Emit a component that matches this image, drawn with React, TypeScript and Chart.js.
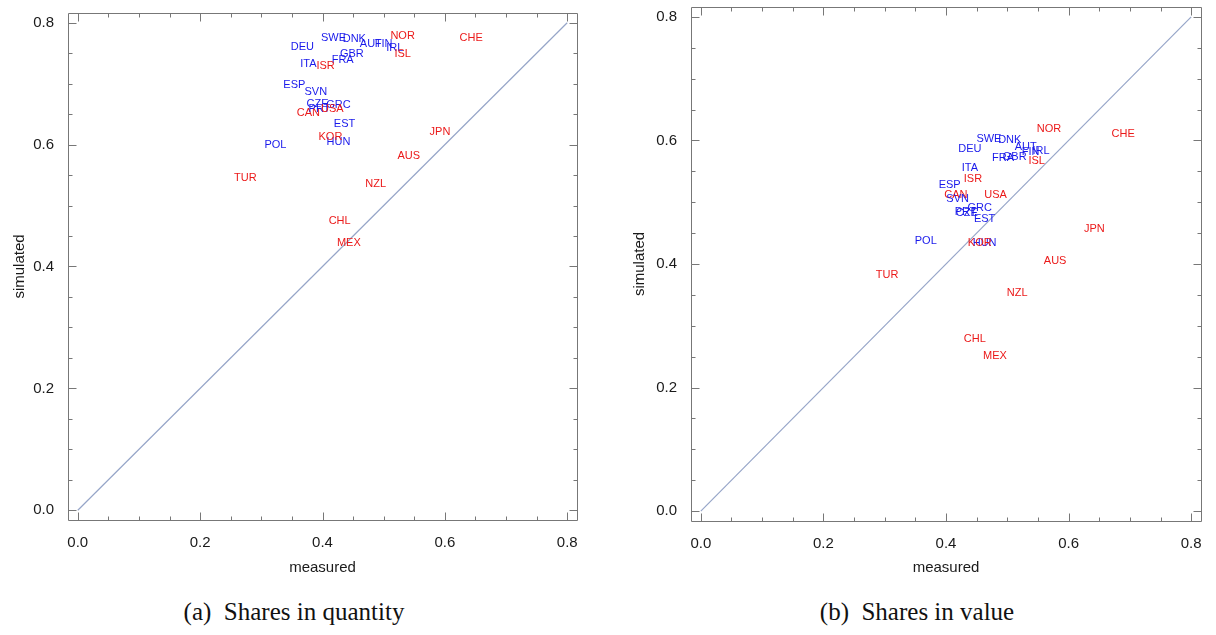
import React, { useEffect, useRef } from "react";
import { Chart, registerables } from "chart.js";

Chart.register(...registerables);

const COUNTRIES = ["AUS","AUT","CAN","CHE","CHL","CZE","DEU","DNK","ESP","EST","FIN","FRA","GBR","GRC","HUN","IRL","ISL","ISR","ITA","JPN","KOR","MEX","NOR","NZL","POL","PRT","SVN","SWE","TUR","USA"];
const EU_MEMBERS = ["AUT","CZE","DEU","DNK","ESP","EST","FIN","FRA","GBR","GRC","HUN","IRL","ITA","POL","PRT","SVN","SWE"];

const QTY_MEASURED = [0.541,0.479,0.377,0.643,0.428,0.392,0.367,0.452,0.354,0.436,0.500,0.433,0.448,0.426,0.426,0.518,0.531,0.405,0.377,0.592,0.413,0.443,0.531,0.487,0.323,0.395,0.389,0.418,0.274,0.416];
const QTY_SIMULATED = [0.582,0.765,0.652,0.775,0.474,0.667,0.761,0.773,0.698,0.634,0.765,0.739,0.748,0.665,0.605,0.758,0.748,0.729,0.732,0.621,0.613,0.438,0.779,0.536,0.600,0.658,0.686,0.775,0.546,0.658];

const VAL_MEASURED = [0.578,0.530,0.416,0.689,0.447,0.434,0.439,0.504,0.406,0.463,0.538,0.493,0.512,0.455,0.463,0.555,0.548,0.444,0.439,0.642,0.455,0.480,0.568,0.516,0.367,0.432,0.419,0.470,0.304,0.481];
const VAL_SIMULATED = [0.405,0.590,0.511,0.611,0.279,0.483,0.587,0.601,0.528,0.473,0.582,0.571,0.574,0.491,0.434,0.583,0.567,0.538,0.556,0.457,0.434,0.251,0.619,0.353,0.438,0.485,0.506,0.603,0.382,0.511];

const TICK_VALUES = [0, 0.2, 0.4, 0.6, 0.8];
const MINOR_STEP = 0.05;
const AXIS_MIN = -0.016;
const AXIS_MAX = 0.816;
const DIAGONAL = [0, 0.8];

const BLUE = "rgb(25,25,235)";
const RED = "rgb(235,25,25)";
const FRAME = "#777777";

const framePlugin = {
  id: "frameTicks",
  beforeDatasetsDraw(chart: any) {
    const { ctx, chartArea: a, scales } = chart;
    const xs = scales.x, ys = scales.y;
    const L = Math.round(a.left) + 0.5, R = Math.round(a.right) + 0.5;
    const T = Math.round(a.top) + 0.5, B = Math.round(a.bottom) + 0.5;
    ctx.save();
    ctx.strokeStyle = FRAME;
    ctx.lineWidth = 1;
    ctx.beginPath();
    ctx.rect(L, T, R - L, B - T);
    for (let i = 0; i <= 16; i++) {
      const v = i * MINOR_STEP;
      const major = i % 4 === 0;
      const len = major ? 8 : 4;
      const px = Math.round(xs.getPixelForValue(v)) + 0.5;
      ctx.moveTo(px, B); ctx.lineTo(px, B - len);
      ctx.moveTo(px, T); ctx.lineTo(px, T + len);
      const py = Math.round(ys.getPixelForValue(v)) + 0.5;
      ctx.moveTo(L, py); ctx.lineTo(L + len, py);
      ctx.moveTo(R, py); ctx.lineTo(R - len, py);
    }
    ctx.stroke();
    ctx.restore();
  },
};

const labelPlugin = {
  id: "pointLabels",
  afterDatasetsDraw(chart: any) {
    const { ctx, scales } = chart;
    ctx.save();
    ctx.font = "11px 'Liberation Sans', Arial, sans-serif";
    ctx.textAlign = "center";
    ctx.textBaseline = "middle";
    chart.data.datasets.forEach((ds: any) => {
      if (!ds.pointLabels) return;
      ds.data.forEach((p: any, i: number) => {
        ctx.fillStyle = ds.labelColors[i];
        ctx.fillText(ds.pointLabels[i], scales.x.getPixelForValue(p.x), scales.y.getPixelForValue(p.y));
      });
    });
    ctx.restore();
  },
};

type PanelProps = {
  measured: number[];
  simulated: number[];
  width: number;
  yAxisWidth: number;
  xAxisHeight: number;
  padTop: number;
  padRight: number;
  yTitlePad: number;
};

function Panel(props: PanelProps) {
  const ref = useRef<HTMLCanvasElement | null>(null);
  useEffect(() => {
    if (!ref.current) return;
    const colors = COUNTRIES.map((c) => (EU_MEMBERS.includes(c) ? BLUE : RED));
    const tickFont = { family: "'Liberation Sans', Arial, sans-serif", size: 15 };
    const chart = new Chart(ref.current, {
      type: "scatter",
      data: {
        datasets: [
          {
            type: "line",
            data: DIAGONAL.map((v) => ({ x: v, y: v })),
            borderColor: "rgb(150,165,200)",
            borderWidth: 1.2,
            pointRadius: 0,
            fill: false,
          } as any,
          {
            data: props.measured.map((m, i) => ({ x: m, y: props.simulated[i] })),
            pointRadius: 0,
            pointHoverRadius: 0,
            pointLabels: COUNTRIES,
            labelColors: colors,
          } as any,
        ],
      },
      options: {
        animation: false,
        responsive: false,
        maintainAspectRatio: false,
        events: [],
        layout: { padding: { top: props.padTop, right: props.padRight, left: 0, bottom: 0 } },
        plugins: { legend: { display: false }, tooltip: { enabled: false } },
        scales: {
          x: {
            type: "linear",
            min: AXIS_MIN,
            max: AXIS_MAX,
            grid: { display: false },
            border: { display: false },
            afterBuildTicks: (s: any) => { s.ticks = TICK_VALUES.map((v) => ({ value: v })); },
            afterFit: (s: any) => { s.height = props.xAxisHeight; s.paddingLeft = 0; s.paddingRight = 0; },
            ticks: { color: "#1a1a1a", font: tickFont, padding: 6, maxRotation: 0, callback: (v: any) => Number(v).toFixed(1) },
            title: { display: true, text: "measured", color: "#1a1a1a", font: tickFont, padding: { top: 0, bottom: 8 } },
          },
          y: {
            type: "linear",
            min: AXIS_MIN,
            max: AXIS_MAX,
            grid: { display: false },
            border: { display: false },
            afterBuildTicks: (s: any) => { s.ticks = TICK_VALUES.map((v) => ({ value: v })); },
            afterFit: (s: any) => { s.width = props.yAxisWidth; s.paddingTop = 0; s.paddingBottom = 0; },
            ticks: { color: "#1a1a1a", font: tickFont, padding: 6, callback: (v: any) => Number(v).toFixed(1) },
            title: { display: true, text: "simulated", color: "#1a1a1a", font: tickFont, padding: { top: props.yTitlePad, bottom: 0 } },
          },
        },
      } as any,
      plugins: [framePlugin, labelPlugin],
    });
    return () => chart.destroy();
  }, []);
  return <canvas ref={ref} width={props.width} height={585} style={{ display: "block" }} />;
}

const captionStyle: React.CSSProperties = {
  position: "absolute",
  top: 598,
  fontFamily: "'Liberation Serif', 'Times New Roman', serif",
  fontSize: 25,
  color: "#111",
  whiteSpace: "pre",
  transform: "translateX(-50%)",
};

export default function App() {
  return (
    <div style={{ position: "absolute", left: 0, top: 0, width: 1216, height: 635, background: "#fff", overflow: "hidden" }}>
      <div style={{ position: "absolute", left: 0, top: 0 }}>
        <Panel measured={QTY_MEASURED} simulated={QTY_SIMULATED} width={610} yAxisWidth={68} xAxisHeight={65} padTop={13} padRight={33} yTitlePad={11} />
      </div>
      <div style={{ position: "absolute", left: 610, top: 0 }}>
        <Panel measured={VAL_MEASURED} simulated={VAL_SIMULATED} width={606} yAxisWidth={81} xAxisHeight={64} padTop={7} padRight={15} yTitlePad={21} />
      </div>
      <div style={{ ...captionStyle, left: 294 }}>{"(a)  Shares in quantity"}</div>
      <div style={{ ...captionStyle, left: 917 }}>{"(b)  Shares in value"}</div>
    </div>
  );
}
